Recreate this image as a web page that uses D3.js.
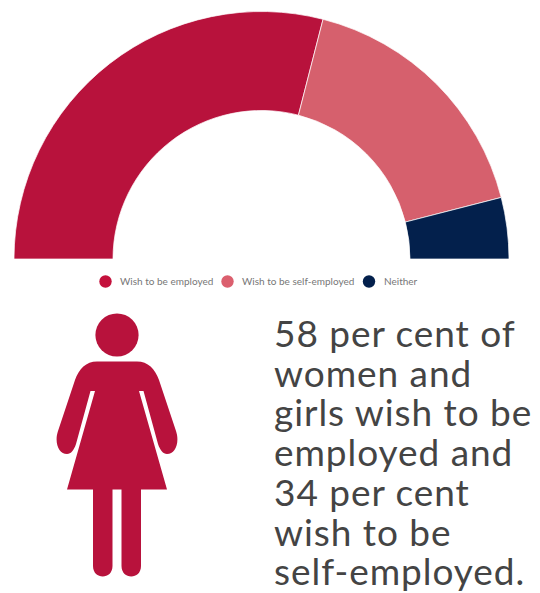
<!DOCTYPE html>
<html>
<head>
<meta charset="utf-8">
<style>
html, body { margin: 0; padding: 0; background: #fff; }
svg { display: block; }
</style>
<script src="https://cdnjs.cloudflare.com/ajax/libs/d3/7.8.5/d3.min.js"></script>
</head>
<body>
<svg id="chart" width="540" height="593"></svg>
<script>
const categories = ["Wish to be employed", "Wish to be self-employed", "Neither"];
const shares = [58, 34, 8];
const colours = ["#B8123C", "#D6606D", "#03204C"];
const legendDotColours = ["#C4113C", "#DB5F6E", "#03204C"];
const headline = [
  "58 per cent of", "women and", "girls wish to be", "employed and",
  "34 per cent", "wish to be", "self-employed."
];

const svg = d3.select("#chart");

// Half-doughnut, left to right along the top
const cx = 261.5, cy = 259;
const pie = d3.pie().sort(null).startAngle(-Math.PI / 2).endAngle(Math.PI / 2);
const arc = d3.arc().innerRadius(148.5).outerRadius(247.5);
svg.append("g")
  .attr("transform", `translate(${cx},${cy})`)
  .selectAll("path")
  .data(pie(shares))
  .join("path")
  .attr("d", arc)
  .attr("fill", (d, i) => colours[i])
  .attr("stroke", "#fff")
  .attr("stroke-opacity", 0.7)
  .attr("stroke-width", 1);

// Legend row
const legendDotX = [105.5, 227.5, 369];
const legendTextX = [120, 242, 384];
const legend = svg.append("g").selectAll("g").data(categories).join("g");
legend.append("circle")
  .attr("cx", (d, i) => legendDotX[i])
  .attr("cy", 281.5)
  .attr("r", 6.2)
  .attr("fill", (d, i) => legendDotColours[i]);
legend.append("text")
  .attr("x", (d, i) => legendTextX[i])
  .attr("y", 285)
  .attr("font-family", "Lato, sans-serif")
  .attr("font-size", 10)
  .attr("fill", "#777777")
  .text(d => d);

// Woman pictogram: right half is the left half mirrored about the centre line
const figure = svg.append("g").attr("fill", "#B8123C");
const axis = 117;
figure.append("circle").attr("cx", axis).attr("cy", 335).attr("r", 21.6);

const half = d3.path();
half.moveTo(0, 361.6);
half.lineTo(20, 361.6);
half.bezierCurveTo(31, 361.6, 38, 369, 42, 380);
half.lineTo(59, 431);
half.bezierCurveTo(63, 443, 58, 454, 50, 454);
half.bezierCurveTo(46, 454, 43, 450, 41, 444);
half.lineTo(26.5, 391);
half.lineTo(22, 391);
half.lineTo(50, 489.5);
half.lineTo(24, 489.5);
half.lineTo(24, 566);
half.bezierCurveTo(24, 580, 4.5, 580, 4.5, 566);
half.lineTo(4.5, 489.5);
half.lineTo(0, 489.5);
half.closePath();
[1, -1].forEach(side => {
  figure.append("path")
    .attr("transform", `translate(${axis},0) scale(${side},1)`)
    .attr("d", half.toString());
});

// Headline beside the figure, one paragraph broken into lines
svg.append("text")
  .attr("font-family", "Lato, sans-serif")
  .attr("font-size", 37)
  .attr("letter-spacing", 0.95)
  .attr("fill", "#444444")
  .selectAll("tspan").data(headline).join("tspan")
  .attr("x", 274)
  .attr("y", (d, i) => 347 + i * 39.7)
  .text(d => d);
</script>
</body>
</html>
